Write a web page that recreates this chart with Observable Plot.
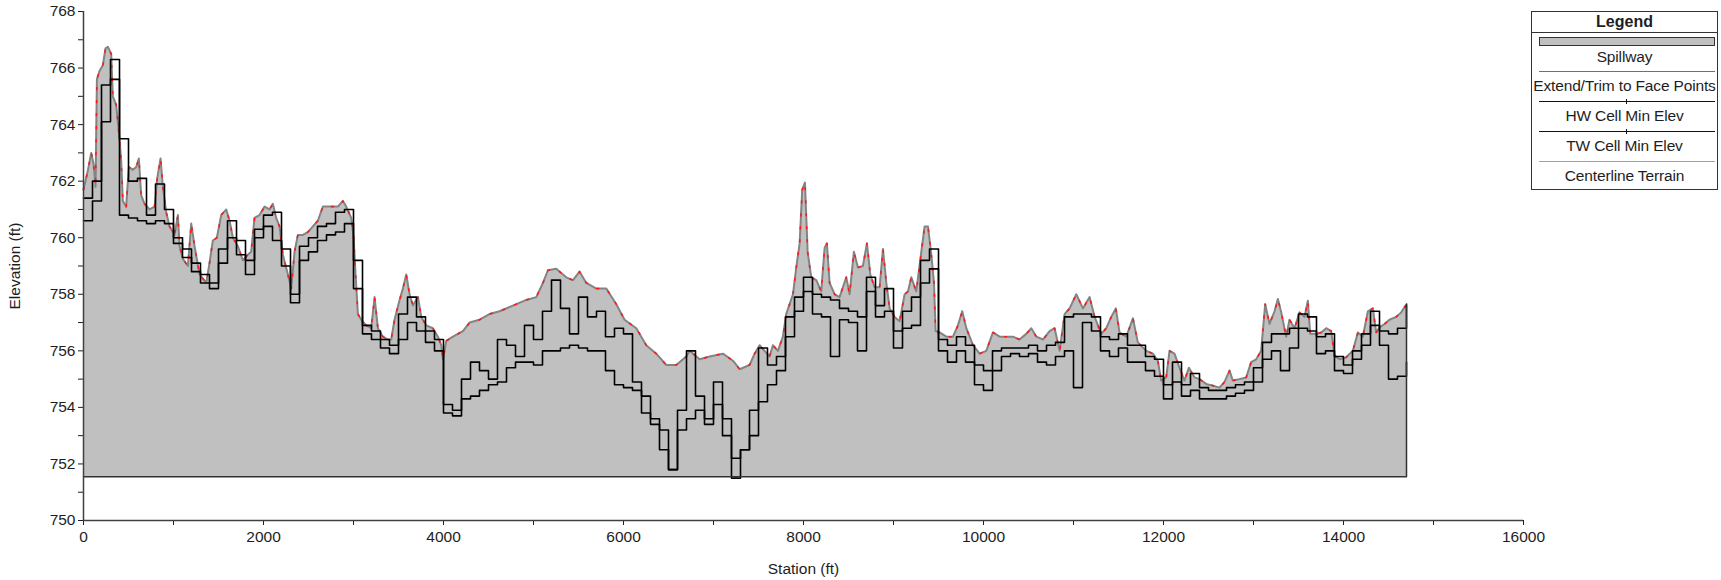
<!DOCTYPE html>
<html>
<head>
<meta charset="utf-8">
<script src="https://cdn.jsdelivr.net/npm/d3@7"></script>
<script src="https://cdn.jsdelivr.net/npm/@observablehq/plot@0.6"></script>
<style>
  html, body { margin: 0; padding: 0; background: #fff; }
  #wrap { position: relative; width: 1721px; height: 580px; font-family: "Liberation Sans", Arial, sans-serif; color: #1e1e1e; }
  #legend { position: absolute; left: 1531px; top: 11px; width: 187px; height: 179px; border: 1.5px solid #333; background: #fff; box-sizing: border-box; }
  #legend .t { position: absolute; left: -4px; right: -4px; text-align: center; font-size: 15.5px; line-height: 16px; white-space: nowrap; letter-spacing: -0.15px; }
  #legend .title { font-weight: bold; font-size: 16px; letter-spacing: 0; }
  #legend .sep { position: absolute; left: 0; width: 100%; height: 0; border-top: 1.5px solid #333; }
  #legend .ln { position: absolute; left: 7px; width: 176px; height: 0; }
  #legend .tk { position: absolute; left: 94px; width: 0; height: 5px; border-left: 1.5px solid #111; }
</style>
</head>
<body>
<div id="wrap"></div>
<script>
// ---------- data ----------
const xTickValues = [0, 2000, 4000, 6000, 8000, 10000, 12000, 14000, 16000];
const xMinorTicks = [1000, 3000, 5000, 7000, 9000, 11000, 13000, 15000];
const yTickValues = [750, 752, 754, 756, 758, 760, 762, 764, 766, 768];
const yMinorTicks = [751, 753, 755, 757, 759, 761, 763, 765, 767];

const spillwayBase = 751.55;   // ft
const spillwayEnd = 14700;     // ft

// Centerline terrain [station, elevation]
const centerlineTerrain = [
[0,761.7],[50,762.4],[86,763.0],[112,762.6],[134,761.8],[149,765.6],[178,765.9],[215,766.1],[245,766.7],[271,766.75],
[308,766.5],[326,765.0],[363,764.7],[400,763.5],[419,762.7],[437,761.3],[474,761.1],[504,762.5],[549,762.4],[586,762.5],
[615,762.8],[641,761.5],[678,761.2],[734,761.0],[790,761.1],[819,762.1],[856,762.8],[882,761.8],[919,760.9],[956,760.4],
[1012,760.1],[1049,760.8],[1067,759.7],[1104,759.25],[1160,759.0],[1197,760.5],[1234,759.7],[1290,758.7],[1364,758.4],[1400,759.1],
[1437,759.9],[1482,760.0],[1530,760.8],[1586,761.0],[1623,760.6],[1660,760.0],[1715,759.7],[1771,759.2],[1826,759.4],[1863,759.5],
[1900,760.7],[1956,760.8],[2012,761.1],[2067,761.0],[2104,761.2],[2141,760.7],[2178,760.4],[2215,759.4],[2271,758.7],[2308,758.2],
[2345,759.5],[2382,760.1],[2438,760.1],[2493,760.2],[2549,760.4],[2604,760.6],[2660,761.1],[2716,761.1],[2771,761.1],[2827,761.1],
[2882,761.3],[2919,761.1],[2975,760.7],[3001,760.0],[3023,758.7],[3049,757.3],[3086,757.1],[3141,756.9],[3197,756.8],[3234,757.9],
[3271,756.8],[3327,756.5],[3382,756.4],[3419,756.4],[3456,757.1],[3512,757.8],[3549,758.2],[3586,758.7],[3623,758.0],[3660,757.6],
[3716,757.9],[3753,757.2],[3808,756.9],[3882,756.8],[3938,756.5],[3975,756.2],[3994,755.7],[4031,756.35],[4105,756.5],[4216,756.7],
[4290,757.0],[4401,757.1],[4512,757.3],[4623,757.4],[4772,757.6],[4920,757.8],[5031,757.9],[5105,758.4],[5160,758.85],[5253,758.9],
[5364,758.6],[5438,758.5],[5512,758.8],[5587,758.4],[5698,758.2],[5809,758.2],[5920,757.65],[6012,757.1],[6142,756.8],[6253,756.2],
[6364,755.9],[6475,755.5],[6586,755.5],[6698,755.8],[6735,756.0],[6846,755.7],[6957,755.8],[7105,755.9],[7216,755.65],[7290,755.35],
[7401,755.5],[7457,755.9],[7512,756.2],[7568,756.0],[7623,755.8],[7660,756.2],[7716,756.0],[7771,756.5],[7808,757.3],[7883,758.0],
[7920,758.95],[7957,759.8],[7986,761.7],[8016,761.95],[8046,759.5],[8086,758.6],[8142,758.5],[8197,758.1],[8235,759.65],[8260,759.8],
[8290,758.4],[8346,758.0],[8401,757.9],[8475,758.6],[8512,758.0],[8560,759.5],[8605,758.95],[8660,759.0],[8705,759.8],[8742,758.7],
[8790,758.25],[8846,758.25],[8883,759.6],[8920,758.4],[8957,757.5],[9012,757.2],[9068,757.05],[9124,758.0],[9161,758.1],[9198,758.6],
[9253,758.1],[9309,759.5],[9346,760.4],[9383,760.4],[9420,759.4],[9450,758.4],[9468,756.7],[9512,756.65],[9587,756.5],[9661,756.5],
[9716,756.9],[9764,757.4],[9809,756.8],[9883,756.2],[9957,755.9],[10031,756.0],[10105,756.65],[10179,756.5],[10253,756.5],[10327,756.5],
[10401,756.4],[10475,756.6],[10531,756.8],[10587,756.5],[10661,756.4],[10735,756.7],[10790,756.8],[10846,756.0],[10901,757.3],[10957,757.5],
[11031,758.0],[11105,757.5],[11179,757.9],[11235,757.2],[11309,756.6],[11364,756.8],[11420,757.2],[11470,757.5],[11511,756.65],[11587,756.5],
[11660,757.15],[11715,756.3],[11809,756.0],[11882,755.9],[11937,755.65],[11974,754.95],[12030,755.06],[12067,756.0],[12122,755.9],[12178,755.4],
[12233,754.95],[12282,755.4],[12345,755.06],[12400,755.0],[12474,754.83],[12548,754.77],[12622,754.7],[12678,754.9],[12734,755.3],[12770,754.95],
[12845,755.0],[12919,755.06],[12974,755.6],[13030,755.7],[13085,756.0],[13130,757.65],[13178,756.95],[13234,757.4],[13271,757.83],[13308,757.36],
[13363,756.5],[13400,757.1],[13456,756.8],[13511,757.36],[13567,757.2],[13604,757.77],[13630,756.6],[13697,756.6],[13752,756.65],[13808,756.8],
[13863,756.7],[13900,755.83],[13956,755.7],[14030,755.77],[14104,756.0],[14160,756.65],[14215,756.5],[14271,757.4],[14326,757.5],[14363,756.65],
[14400,756.83],[14456,756.95],[14511,757.1],[14585,757.2],[14641,757.36],[14700,757.65]
];

// Cell min elevations, one value per 100 ft of station (0 ... 14700)
const cellStations = d3.range(0, 14701, 100);
const hwCellMinElev = [
761.4,762.0,765.4,766.3,763.5,762.0,762.1,760.8,761.9,761.0,
760.0,759.6,759.1,758.7,758.4,759.6,760.6,759.9,759.2,760.3,
760.8,760.9,759.6,758.0,759.7,760.0,760.4,760.5,760.9,761.0,
759.2,756.9,756.7,756.4,756.2,757.3,757.9,757.2,756.7,756.4,
754.1,753.9,755.0,755.6,755.3,755.0,756.4,756.2,755.8,756.9,
756.4,757.4,758.5,757.5,756.6,757.9,757.2,757.4,756.5,756.8,
756.6,754.9,754.4,753.6,752.5,751.8,753.9,756.0,754.4,753.6,
754.9,753.6,751.5,752.5,753.9,756.1,755.5,755.8,757.2,757.9,
758.6,758.0,757.9,757.8,757.5,757.4,757.2,758.6,757.6,758.2,
756.7,757.4,757.9,759.2,759.6,756.4,756.2,756.5,756.2,755.5,
755.3,756.0,756.1,756.1,756.1,756.2,756.0,756.2,756.3,757.2,
757.3,757.3,757.2,756.5,756.4,756.6,756.2,756.2,755.8,755.7,
754.8,755.6,754.8,755.2,754.7,754.6,754.6,754.7,754.8,754.9,
755.4,756.3,756.6,756.6,756.8,757.3,757.2,756.5,756.6,755.8,
755.5,756.0,756.6,757.4,756.7,756.6,756.8,757.6
];
const twCellMinElev = [
760.6,761.3,764.1,765.6,760.8,760.7,760.6,760.5,760.6,760.5,
759.8,759.3,758.8,758.4,758.2,759.1,760.0,759.4,758.7,760.0,
760.4,759.9,759.0,757.7,759.2,759.5,759.9,760.1,760.2,760.5,
758.2,756.6,756.4,756.1,755.9,756.4,757.0,756.7,756.3,756.0,
753.8,753.7,754.3,754.4,754.6,754.8,754.9,755.4,755.6,755.6,
755.5,756.0,756.0,756.1,756.2,756.1,756.0,756.0,755.3,754.8,
754.7,754.6,753.8,753.4,753.2,751.8,753.2,753.6,753.9,753.4,
754.1,753.0,752.2,752.5,753.0,754.2,754.8,755.3,756.5,757.4,
758.1,757.3,757.2,755.8,757.1,757.0,756.0,758.1,757.2,757.4,
756.1,756.8,756.9,758.4,758.9,756.0,755.6,756.0,755.6,754.8,
754.6,755.3,755.8,755.9,755.8,755.9,755.6,755.5,755.8,756.0,
754.7,757.0,756.7,756.0,755.8,756.1,755.6,755.6,755.3,755.1,
754.3,754.9,754.4,754.6,754.3,754.3,754.3,754.4,754.5,754.6,
754.9,755.7,756.0,755.3,756.1,756.8,756.7,755.9,756.0,755.3,
755.2,755.7,756.2,756.9,756.2,755.0,755.1,755.6
];

// ---------- build tables ----------
const terrain = centerlineTerrain.map(([s, e]) => ({station: s, elev: e}));
const hw = cellStations.map((s, i) => ({station: s, elev: hwCellMinElev[i]}));
const tw = cellStations.map((s, i) => ({station: s, elev: twCellMinElev[i]}));
const lastElev = centerlineTerrain[centerlineTerrain.length - 1][1];
const spillwayOutline = [
  {station: 0, elev: spillwayBase},
  {station: spillwayEnd, elev: spillwayBase},
  {station: spillwayEnd, elev: lastElev}
];

const font = "'Liberation Sans', Arial, sans-serif";
const chart = Plot.plot({
  width: 1721,
  height: 580,
  marginLeft: 83,
  marginRight: 198,
  marginTop: 11,
  marginBottom: 60,
  style: {fontFamily: font, fontSize: "15.5px", color: "#1e1e1e", background: "#fff", overflow: "visible"},
  x: {domain: [0, 16000]},
  y: {domain: [750, 768]},
  marks: [
    Plot.areaY(terrain, {x: "station", y1: () => spillwayBase, y2: "elev", fill: "#c0c0c0"}),
    Plot.line(terrain, {x: "station", y: "elev", stroke: "#848484", strokeWidth: 2}),
    Plot.line(terrain, {x: "station", y: "elev", stroke: "#ff1a1a", strokeWidth: 1.6, strokeDasharray: "2,11"}),
    Plot.line(tw, {x: "station", y: "elev", curve: "step-after", stroke: "#000", strokeWidth: 1.6}),
    Plot.line(hw, {x: "station", y: "elev", curve: "step-after", stroke: "#000", strokeWidth: 1.6}),
    Plot.line(spillwayOutline, {x: "station", y: "elev", stroke: "#333", strokeWidth: 1.5}),
    Plot.axisX({ticks: xTickValues, tickSize: 5, tickPadding: 5, tickFormat: d => String(d),
      label: "Station (ft)", labelAnchor: "center", labelArrow: "none", labelOffset: 53}),
    Plot.axisX({ticks: xMinorTicks, tickSize: 5, tickFormat: () => "", label: null}),
    Plot.axisY({ticks: yTickValues, tickSize: 5, tickPadding: 3, tickFormat: d => String(d),
      label: "Elevation (ft)", labelAnchor: "center", labelArrow: "none", labelOffset: 75}),
    Plot.axisY({ticks: yMinorTicks, tickSize: 5, tickFormat: () => "", label: null}),
    Plot.ruleX([0], {stroke: "#404040", strokeWidth: 1.5}),
    Plot.ruleY([750], {stroke: "#404040", strokeWidth: 1.5})
  ]
});

const wrap = document.getElementById("wrap");
wrap.appendChild(chart);

// ---------- legend ----------
const legendItems = [
  {label: "Spillway", kind: "rect", color: "#c0c0c0"},
  {label: "Extend/Trim to Face Points", kind: "line", color: "#ff3333"},
  {label: "HW Cell Min Elev", kind: "tick", color: "#111"},
  {label: "TW Cell Min Elev", kind: "tick", color: "#111"},
  {label: "Centerline Terrain", kind: "line", color: "#a0a0a0"}
];
const legend = document.createElement("div");
legend.id = "legend";
let html = `<div class="t title" style="top:2px">Legend</div><div class="sep" style="top:20px"></div>`;
const rowTops = [25, 59, 89, 119, 149];
legendItems.forEach((it, i) => {
  const y = rowTops[i];
  if (it.kind === "rect") {
    html += `<div style="position:absolute;left:7px;top:${y}px;width:174px;height:7px;background:${it.color};border:1.5px solid #333"></div>`;
    html += `<div class="t" style="top:${y + 12}px">${it.label}</div>`;
  } else {
    html += `<div class="ln" style="top:${y}px;border-top:1.5px solid ${it.color}"></div>`;
    if (it.kind === "tick") html += `<div class="tk" style="top:${y - 2}px"></div>`;
    html += `<div class="t" style="top:${y + 7}px">${it.label}</div>`;
  }
});
legend.innerHTML = html;
wrap.appendChild(legend);
</script>
</body>
</html>
